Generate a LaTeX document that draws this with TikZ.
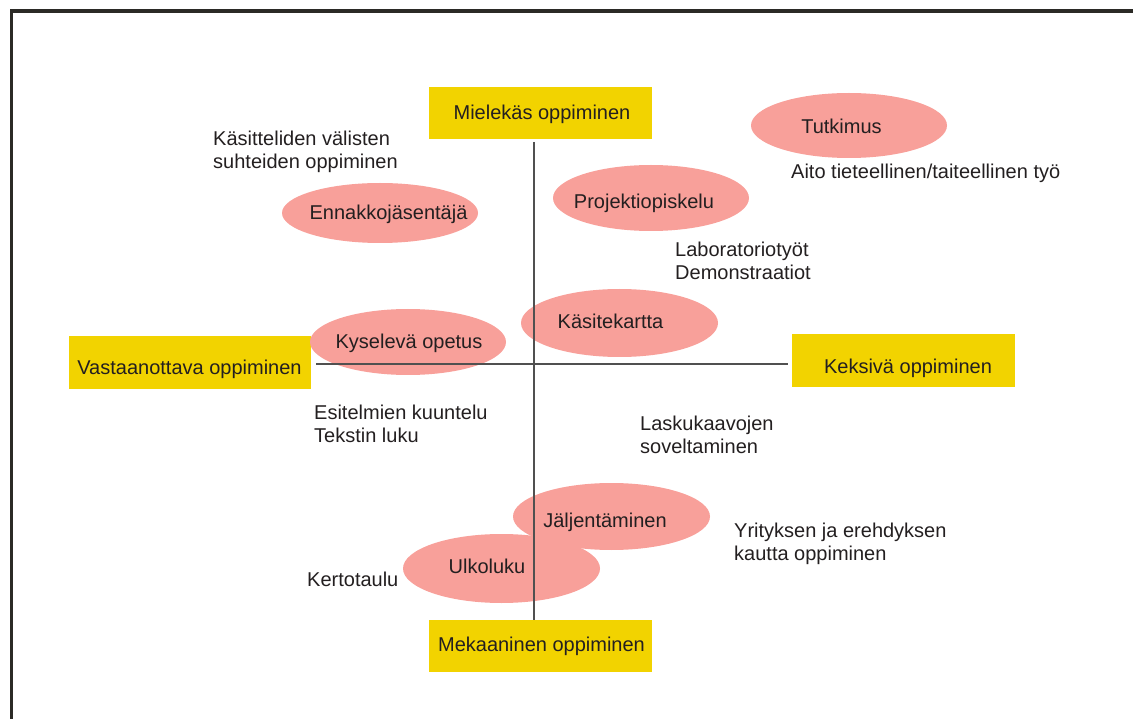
\documentclass[tikz,border=0pt]{standalone}
\usepackage{fontspec}
\setmainfont{Liberation Sans}
\usetikzlibrary{shapes.geometric}
\definecolor{poleyellow}{HTML}{F2D300}
\definecolor{blobpink}{HTML}{F8A09A}
\definecolor{ink}{HTML}{231F20}
\definecolor{framegray}{HTML}{2B2A26}
\definecolor{axisgray}{HTML}{505050}
\begin{document}
\begin{tikzpicture}[x=1pt,y=-1pt,
  every node/.style={font=\fontsize{20}{23}\selectfont, text=ink},
  pole/.style={fill=poleyellow, inner sep=0, minimum height=52},
  blob/.style={ellipse, fill=blobpink, inner sep=0, minimum width=196, minimum height=66},
  lbl/.style={anchor=base, inner sep=0},
  note/.style={anchor=base west, inner sep=0, align=left},
  axis/.style={draw=axisgray, line width=1.2}]
\useasboundingbox (0,0) rectangle (1133,719);

% outer frame (only its top and left edges fall on the page)
\draw[framegray, line width=3.3, line join=miter] (11.7,740) -- (11.7,11) -- (1150,11);

% the four poles
\node[pole, minimum width=223] (mielekas) at (540.5,113) {};
\node[pole, minimum width=223] (mekaaninen) at (540.5,646) {};
\node[pole, minimum width=242, minimum height=53] (vastaanottava) at (190,362.5) {};
\node[pole, minimum width=223, minimum height=53] (keksiva) at (903.5,360.5) {};
\node[lbl] (mielekasT) at (542,120) {Mielekäs oppiminen};
\node[lbl] (mekaaninenT) at (541.5,651) {Mekaaninen oppiminen};
\node[lbl] (vastaanottavaT) at (189.5,374) {Vastaanottava oppiminen};
\node[lbl] (keksivaT) at (908,373.5) {Keksivä oppiminen};

% teaching methods
\node[blob, minimum width=196, minimum height=65] (tutkimus) at (849,125.5) {};
\node[blob, minimum height=60] (ennakko) at (380,213) {};
\node[blob, minimum height=66] (projekti) at (651,198) {};
\node[blob, minimum width=197, minimum height=68] (kasitekartta) at (619.5,323) {};
\node[blob, minimum height=66] (kyselева) at (408,342) {};
\node[blob, minimum width=197, minimum height=67] (jaljent) at (611.5,516.5) {};
\node[blob, minimum width=197, minimum height=69] (ulkoluku) at (501.5,568.5) {};

\node[lbl] (tutkimusT) at (841.5,134) {Tutkimus};
\node[lbl] (ennakkoT) at (388.5,220) {Ennakkojäsentäjä};
\node[lbl] (projektiT) at (644,209) {Projektiopiskelu};
\node[lbl] (kasitekarttaT) at (610.5,329) {Käsitekartta};
\node[lbl] (kyselevaT) at (409,349) {Kyselevä opetus};
\node[lbl] (jaljentT) at (605,527) {Jäljentäminen};
\node[lbl] (ulkolukuT) at (487,573.5) {Ulkoluku};

% axes
\coordinate (vtop) at (534,142);
\coordinate (hleft) at (316,364);
\coordinate (hright) at (788,364);
\draw[axis] (vtop) -- (vtop |- mekaaninen.north);
\draw[axis] (hleft) -- (hright);

% examples (anchored at the baseline of their last line)
\node[note] (kasitteliden) at (213,169) {Käsitteliden välisten\\suhteiden oppiminen};
\node[note] (aito) at (791,179) {Aito tieteellinen/taiteellinen työ};
\node[note] (labra) at (675,280) {Laboratoriotyöt\\Demonstraatiot};
\node[note] (esitelmat) at (314,442) {Esitelmien kuuntelu\\Tekstin luku};
\node[note] (laskukaavat) at (640,453) {Laskukaavojen\\soveltaminen};
\node[note] (yritys) at (734,560) {Yrityksen ja erehdyksen\\kautta oppiminen};
\node[note] (kertotaulu) at (307,586) {Kertotaulu};
\end{tikzpicture}
\end{document}
